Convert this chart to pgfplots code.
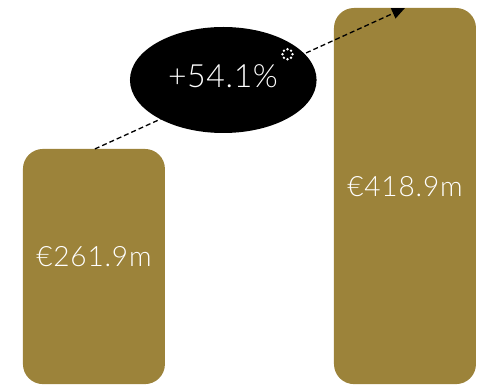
\documentclass[border=0pt]{standalone}
\usepackage{pgfplots}
\pgfplotsset{compat=1.18}
\usepackage{fontspec}
\setmainfont{Lato}[UprightFont={* Light}]
\newfontfamily\barfont{Lato}[UprightFont={* Light}, LetterSpace=3]
\newfontfamily\pctfont{Lato}[UprightFont={* Light}, LetterSpace=2]
\usetikzlibrary{arrows.meta}
\definecolor{barcol}{RGB}{156,131,58}
\begin{document}
\begin{tikzpicture}
\begin{axis}[
  scale only axis, width=482bp, height=385bp,
  xmin=-0.302, xmax=1.2476, ymin=-1, ymax=427.8,
  hide axis, clip=false,
]
\addplot[ybar, fill=barcol, draw=none, rounded corners=20bp, bar width=142bp, bar shift=0pt]
  coordinates {(0,261.9) (1,418.9)};
\draw[line width=1.3bp, dash pattern=on 5bp off 3bp, -{Triangle[length=13bp,width=11bp]}]
  (axis cs:0.003,261.9) -- (axis cs:1,418.9);
\fill[black] (axis cs:0.4158,338.7) ellipse [x radius=93.3bp, y radius=53bp];
\node[anchor=base, text=white, font=\pctfont\fontsize{32bp}{36bp}\selectfont, inner sep=0pt] at (axis cs:0.4148,330.7) {+54.1\%};
\coordinate (dc) at (axis cs:0.6222,367.4);
\node[anchor=base, text=white, font=\barfont\fontsize{28bp}{32bp}\selectfont, inner sep=0pt] at (axis cs:0,130.8) {€261.9m};
\node[anchor=base, text=white, font=\barfont\fontsize{28bp}{32bp}\selectfont, inner sep=0pt] at (axis cs:1,208.7) {€418.9m};
\end{axis}
\foreach \a in {0,45,...,315} {
  \fill[white] (dc) ++(\a:5bp) circle[radius=1.3bp];
}
\path[use as bounding box] (current axis.south west) rectangle (current axis.north east);
\end{tikzpicture}
\end{document}
